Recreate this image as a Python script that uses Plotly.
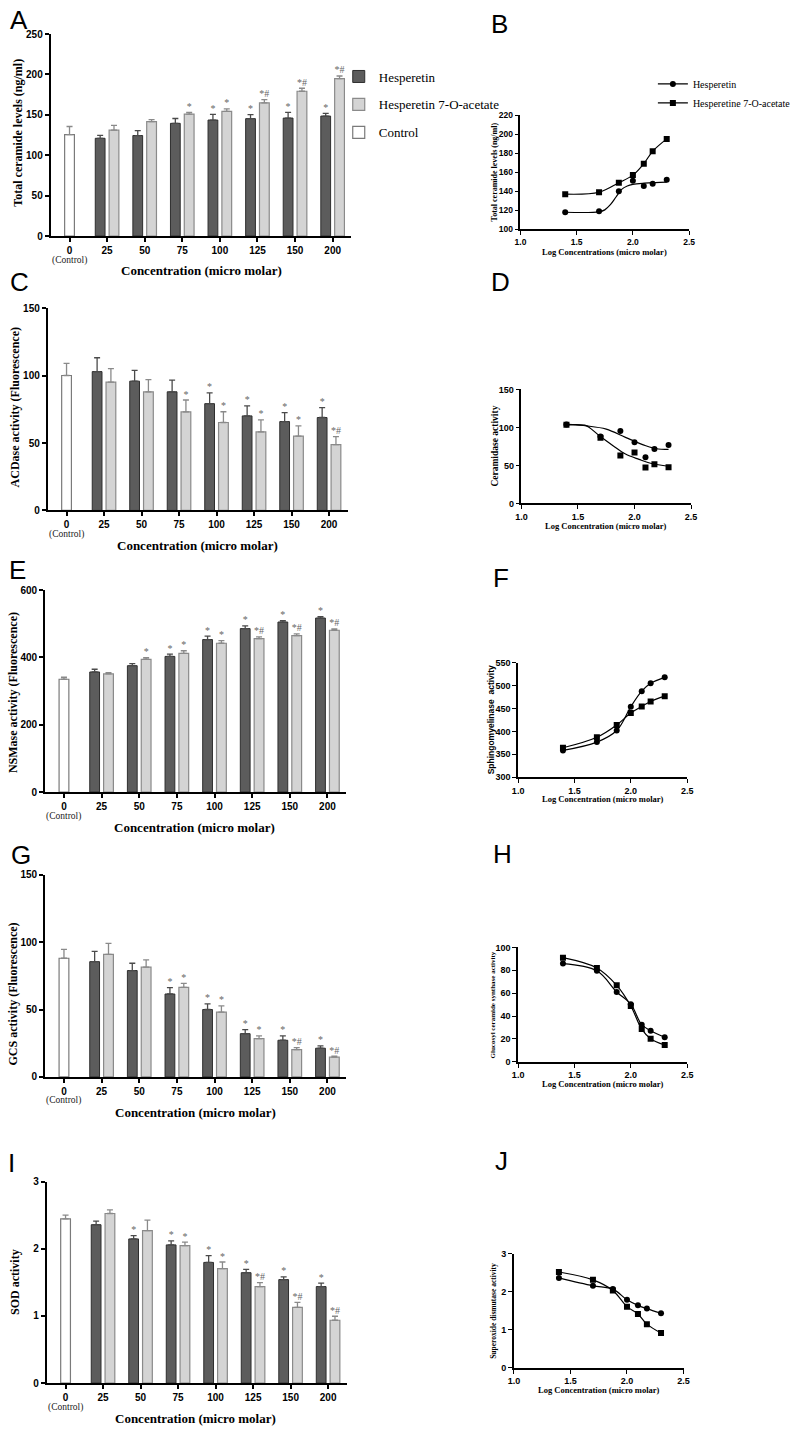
import plotly.graph_objects as go

# ---------------- data ----------------
conc_labels = ['0', '25', '50', '75', '100', '125', '150', '200']
log_conc = [1.398, 1.699, 1.875, 2.0, 2.097, 2.176, 2.301]

# A: total ceramide (ng/ml)
ctrl_A, ctrl_A_err = 125.6, 10.0
hes_A = [121.0, 124.4, 139.5, 143.6, 145.3, 146.0, 148.5]
hes_A_err = [3.7, 6.0, 6.0, 7.0, 5.0, 7.0, 3.3]
ace_A = [131.0, 141.6, 151.0, 154.3, 164.9, 179.2, 194.8]
ace_A_err = [6.0, 2.5, 2.0, 3.0, 4.0, 3.7, 3.3]
hes_A_sig = ['', '', '', '*', '*', '*', '*']
ace_A_sig = ['', '', '*', '*', '*#', '*#', '*#']

# C: ACDase activity
ctrl_C, ctrl_C_err = 100.2, 9.0
hes_C = [103.1, 96.0, 88.1, 79.3, 70.2, 66.0, 69.0]
hes_C_err = [10.3, 8.0, 8.6, 8.0, 7.4, 6.6, 7.4]
ace_C = [95.3, 88.1, 73.2, 65.3, 58.4, 55.2, 48.9]
ace_C_err = [10.0, 9.0, 8.8, 8.0, 8.8, 7.6, 5.9]
hes_C_sig = ['', '', '', '*', '*', '*', '*']
ace_C_sig = ['', '', '*', '*', '*', '*', '*#']

# E: NSMase activity
ctrl_E, ctrl_E_err = 335.0, 6.0
hes_E = [356.7, 375.4, 402.9, 453.0, 485.5, 505.0, 516.9]
hes_E_err = [8.0, 6.0, 7.0, 10.0, 8.0, 4.0, 4.0]
ace_E = [350.8, 394.0, 411.7, 442.0, 456.0, 464.8, 480.6]
ace_E_err = [4.0, 5.0, 8.0, 8.0, 5.0, 5.0, 4.0]
hes_E_sig = ['', '', '*', '*', '*', '*', '*']
ace_E_sig = ['', '*', '*', '*', '*#', '*#', '*#']

# G: GCS activity
ctrl_G, ctrl_G_err = 88.0, 6.6
hes_G = [85.5, 78.9, 61.5, 50.0, 32.1, 27.2, 21.3]
hes_G_err = [7.6, 5.4, 4.7, 4.2, 3.0, 3.2, 1.7]
ace_G = [90.9, 81.4, 66.4, 48.0, 28.4, 20.3, 14.7]
ace_G_err = [8.1, 5.4, 3.0, 4.7, 2.0, 1.5, 0.7]
hes_G_sig = ['', '', '*', '*', '*', '*', '*']
ace_G_sig = ['', '', '*', '*', '*', '*#', '*#']

# I: SOD activity
ctrl_I, ctrl_I_err = 2.448, 0.055
hes_I = [2.36, 2.148, 2.059, 1.798, 1.645, 1.542, 1.438]
hes_I_err = [0.054, 0.05, 0.06, 0.1, 0.05, 0.04, 0.05]
ace_I = [2.527, 2.271, 2.049, 1.704, 1.438, 1.128, 0.936]
ace_I_err = [0.054, 0.158, 0.05, 0.1, 0.06, 0.074, 0.06]
hes_I_sig = ['', '*', '*', '*', '*', '*', '*']
ace_I_sig = ['', '', '*', '*', '*#', '*#', '*#']

# B: log-concentration plot of ceramide levels
hes_B = [118, 119, 140, 151, 145.5, 148, 152]
ace_B = [137, 139, 149, 157, 169, 182, 195]
hes_B_curve_x = [1.398, 1.70, 1.75, 1.80, 1.85, 1.90, 1.95, 2.0, 2.1, 2.2, 2.301]
hes_B_curve_y = [118, 118.5, 120.5, 126, 134, 142, 145.5, 147.2, 148.5, 149.2, 149.6]

# D: ceramidase
hes_D = [104, 88, 95.2, 80.4, 60.9, 71.7, 77]
ace_D = [103.5, 86.5, 63, 67, 47.4, 51.7, 47.8]
hes_D_curve_x = [1.398, 1.58, 1.75, 1.92, 2.10, 2.21, 2.301]
hes_D_curve_y = [104, 102, 97.8, 87, 76, 71.7, 71.3]
ace_D_curve_x = [1.398, 1.56, 1.60, 1.69, 1.81, 1.92, 2.04, 2.15, 2.301]
ace_D_curve_y = [103.5, 103, 100, 89, 76, 65, 58, 52.6, 49]

# F: sphingomyelinase
hes_F = [358.5, 376.6, 401.9, 453.9, 487.9, 505.2, 518.2]
ace_F = [364.3, 387.4, 414.2, 440.2, 454.6, 465.5, 477]

# H: glucosyl ceramide synthase
hes_H = [85.8, 79.5, 61, 50.3, 32.4, 27.2, 21.4]
ace_H = [91, 82, 66.8, 48.8, 28.6, 20.2, 14.7]

# J: superoxide dismutase
hes_J = [2.365, 2.157, 2.07, 1.79, 1.643, 1.557, 1.435]
ace_J = [2.52, 2.313, 2.035, 1.609, 1.417, 1.148, 0.913]

# ---------------- styling ----------------
W, H = 796, 1432
SANS = 'Liberation Sans, Arial, sans-serif'
SERIF = 'Liberation Serif, Times New Roman, serif'
DARK = '#5c5c5c'
DARK_EDGE = '#2e2e2e'
LIGHT = '#d4d4d4'
LIGHT_EDGE = '#8a8a8a'
BW = 0.26
DARK_OFF = -0.315
LIGHT_OFF = 0.053


def fx(px):
    return px / W


def fy(py):
    return 1 - py / H


def refs(n):
    return ('x' if n == 1 else f'x{n}'), ('y' if n == 1 else f'y{n}')


def names(n):
    return ('xaxis' if n == 1 else f'xaxis{n}'), ('yaxis' if n == 1 else f'yaxis{n}')


fig = go.Figure()
layout_axes = {}


def bar_axes(n, x0, x1, ybot, ytop, yrange, dtick):
    xr, yr = refs(n)
    xn, yn = names(n)
    layout_axes[xn] = dict(domain=[fx(x0), fx(x1)], range=[-0.5, 7.5], anchor=yr,
                           tickvals=list(range(8)), ticktext=conc_labels,
                           showline=True, linecolor='black', linewidth=2,
                           ticks='outside', ticklen=4, tickwidth=1.5, tickcolor='black',
                           tickfont=dict(family=SANS, size=10, color='black', weight='bold'),
                           showgrid=False, zeroline=False, fixedrange=True)
    layout_axes[yn] = dict(domain=[fy(ybot), fy(ytop)], range=yrange, anchor=xr,
                           dtick=dtick, tick0=0,
                           showline=True, linecolor='black', linewidth=2,
                           ticks='outside', ticklen=4, tickwidth=1.5, tickcolor='black',
                           tickfont=dict(family=SANS, size=10, color='black', weight='bold'),
                           showgrid=False, zeroline=False, fixedrange=True)


def line_axes(n, x0, x1, ybot, ytop, yrange, dtick, tfs=9):
    xr, yr = refs(n)
    xn, yn = names(n)
    layout_axes[xn] = dict(domain=[fx(x0), fx(x1)], range=[1.0, 2.5], anchor=yr,
                           dtick=0.5, tick0=1.0, tickformat='.1f',
                           showline=True, linecolor='black', linewidth=1.5,
                           ticks='outside', ticklen=4, tickwidth=1.2, tickcolor='black',
                           tickfont=dict(family=SANS, size=tfs, color='black', weight='bold'),
                           showgrid=False, zeroline=False, fixedrange=True)
    layout_axes[yn] = dict(domain=[fy(ybot), fy(ytop)], range=yrange, anchor=xr,
                           dtick=dtick, tick0=yrange[0],
                           showline=True, linecolor='black', linewidth=1.5,
                           ticks='outside', ticklen=4, tickwidth=1.2, tickcolor='black',
                           tickfont=dict(family=SANS, size=tfs, color='black', weight='bold'),
                           showgrid=False, zeroline=False, fixedrange=True)


def bar_panel(n, ctrl, ctrl_err, hes, hes_err, ace, ace_err, hes_sig, ace_sig, legend):
    xr, yr = refs(n)
    cats = list(range(1, 8))
    fig.add_trace(go.Bar(
        x=[0], y=[ctrl], width=BW, offset=-BW / 2, name='Control',
        marker=dict(color='white', line=dict(color='#7a7a7a', width=1.2)),
        error_y=dict(type='data', array=[ctrl_err], arrayminus=[0], symmetric=False,
                     color=LIGHT_EDGE, thickness=1.3, width=3),
        xaxis=xr, yaxis=yr, showlegend=legend, legendgroup='c', legendrank=3))
    fig.add_trace(go.Bar(
        x=cats, y=hes, width=BW, offset=DARK_OFF, name='Hesperetin',
        marker=dict(color=DARK, line=dict(color=DARK_EDGE, width=1)),
        error_y=dict(type='data', array=hes_err, arrayminus=[0] * 7, symmetric=False,
                     color='#4a4a4a', thickness=1.3, width=3),
        xaxis=xr, yaxis=yr, showlegend=legend, legendgroup='h', legendrank=1))
    fig.add_trace(go.Bar(
        x=cats, y=ace, width=BW, offset=LIGHT_OFF, name='Hesperetin 7-O-acetate',
        marker=dict(color=LIGHT, line=dict(color=LIGHT_EDGE, width=1.2)),
        error_y=dict(type='data', array=ace_err, arrayminus=[0] * 7, symmetric=False,
                     color=LIGHT_EDGE, thickness=1.3, width=3),
        xaxis=xr, yaxis=yr, showlegend=legend, legendgroup='a', legendrank=2))
    # significance marks above the error bars
    sx, sy, st = [], [], []
    for c, v, e, s in zip(cats, hes, hes_err, hes_sig):
        if s:
            sx.append(c + DARK_OFF + BW / 2); sy.append(v + e); st.append(s)
    for c, v, e, s in zip(cats, ace, ace_err, ace_sig):
        if s:
            sx.append(c + LIGHT_OFF + BW / 2); sy.append(v + e); st.append(s)
    fig.add_trace(go.Scatter(
        x=sx, y=sy, text=st, mode='text', textposition='top center',
        textfont=dict(family=SERIF, size=10, color='#666666'),
        xaxis=xr, yaxis=yr, showlegend=False, hoverinfo='skip', cliponaxis=False))


def line_panel(n, hes, ace, hes_curve=None, ace_curve=None):
    xr, yr = refs(n)
    mk_c = dict(symbol='circle', size=6, color='black')
    mk_s = dict(symbol='square', size=6, color='black')
    ln = dict(color='black', width=1.2)
    if hes_curve is None:
        fig.add_trace(go.Scatter(x=log_conc, y=hes, mode='lines+markers', marker=mk_c,
                                 line=dict(ln, shape='spline', smoothing=1.0),
                                 xaxis=xr, yaxis=yr, showlegend=False))
    else:
        fig.add_trace(go.Scatter(x=hes_curve[0], y=hes_curve[1], mode='lines',
                                 line=dict(ln, shape='spline', smoothing=1.0),
                                 xaxis=xr, yaxis=yr, showlegend=False))
        fig.add_trace(go.Scatter(x=log_conc, y=hes, mode='markers', marker=mk_c,
                                 xaxis=xr, yaxis=yr, showlegend=False))
    if ace_curve is None:
        fig.add_trace(go.Scatter(x=log_conc, y=ace, mode='lines+markers', marker=mk_s,
                                 line=dict(ln, shape='spline', smoothing=1.0),
                                 xaxis=xr, yaxis=yr, showlegend=False))
    else:
        fig.add_trace(go.Scatter(x=ace_curve[0], y=ace_curve[1], mode='lines',
                                 line=dict(ln, shape='spline', smoothing=1.0),
                                 xaxis=xr, yaxis=yr, showlegend=False))
        fig.add_trace(go.Scatter(x=log_conc, y=ace, mode='markers', marker=mk_s,
                                 xaxis=xr, yaxis=yr, showlegend=False))


# ---------------- panels ----------------
bar_axes(1, 45.7, 353, 232, 28.3, [0, 250], 50)
bar_panel(1, ctrl_A, ctrl_A_err, hes_A, hes_A_err, ace_A, ace_A_err, hes_A_sig, ace_A_sig, True)

line_axes(2, 525.7, 698, 225.3, 110, [100, 220], 20, tfs=8.5)
line_panel(2, hes_B, ace_B, hes_curve=(hes_B_curve_x, hes_B_curve_y))
# legend entries for the line charts
fig.add_trace(go.Scatter(x=[None], y=[None], mode='lines+markers', name='Hesperetin',
                         marker=dict(symbol='circle', size=6, color='black'),
                         line=dict(color='black', width=1.2), xaxis='x2', yaxis='y2',
                         legend='legend2', legendrank=1))
fig.add_trace(go.Scatter(x=[None], y=[None], mode='lines+markers', name='Hesperetine 7-O-acetate',
                         marker=dict(symbol='square', size=6, color='black'),
                         line=dict(color='black', width=1.2), xaxis='x2', yaxis='y2',
                         legend='legend2', legendrank=2))

bar_axes(3, 42.7, 349.3, 508.7, 305, [0, 150], 50)
bar_panel(3, ctrl_C, ctrl_C_err, hes_C, hes_C_err, ace_C, ace_C_err, hes_C_sig, ace_C_sig, False)

line_axes(4, 526.7, 700, 501.7, 386.7, [0, 150], 50)
line_panel(4, hes_D, ace_D, hes_curve=(hes_D_curve_x, hes_D_curve_y),
           ace_curve=(ace_D_curve_x, ace_D_curve_y))

bar_axes(5, 40, 347.7, 792.7, 589, [0, 600], 200)
bar_panel(5, ctrl_E, ctrl_E_err, hes_E, hes_E_err, ace_E, ace_E_err, hes_E_sig, ace_E_sig, False)

line_axes(6, 523.3, 696, 777.7, 662.3, [300, 550], 50)
line_panel(6, hes_F, ace_F)

bar_axes(7, 40, 347.7, 1080, 876, [0, 150], 50)
bar_panel(7, ctrl_G, ctrl_G_err, hes_G, hes_G_err, ace_G, ace_G_err, hes_G_sig, ace_G_sig, False)

line_axes(8, 523.3, 696, 1064.7, 949.3, [0, 100], 20)
line_panel(8, hes_H, ace_H)

bar_axes(9, 41.7, 348.3, 1388.7, 1185.7, [0, 3], 1)
bar_panel(9, ctrl_I, ctrl_I_err, hes_I, hes_I_err, ace_I, ace_I_err, hes_I_sig, ace_I_sig, False)

line_axes(10, 519, 692.3, 1373.3, 1258.3, [0, 3], 1)
line_panel(10, hes_J, ace_J)

# ---------------- text ----------------
ann = []


def text(x, y, s, size, family=SERIF, bold=True, angle=0, color='black'):
    ann.append(dict(x=fx(x), y=fy(y), xref='paper', yref='paper', text=s, showarrow=False,
                    xanchor='center', yanchor='middle', textangle=angle,
                    font=dict(family=family, size=size, color=color,
                              weight='bold' if bold else 'normal')))


# panel letters
for letter, x, y in [('A', 13, 14), ('B', 504, 18), ('C', 14, 278), ('D', 505, 278),
                     ('E', 12, 569), ('F', 506, 577), ('G', 15, 856), ('H', 507, 855),
                     ('I', 6, 1167), ('J', 506, 1165)]:
    text(x, y, letter, 26, family=SANS, bold=False)

# bar panel titles
text(12, 128, 'Total ceramide levels (ng/ml)', 12, angle=-90)
text(200, 267, 'Concentration (micro molar)', 13)
text(9, 405, 'ACDase activity (Fluorescence)', 12, angle=-90)
text(196, 544, 'Concentration (micro molar)', 13)
text(7, 692, 'NSMase activity (Fluorescence)', 12, angle=-90)
text(193, 828, 'Concentration (micro molar)', 13)
text(7, 996, 'GCS activity (Fluorescence)', 12, angle=-90)
text(194, 1116, 'Concentration (micro molar)', 13)
text(9, 1287, 'SOD activity', 12, angle=-90)
text(194, 1424, 'Concentration (micro molar)', 13)

# "(Control)" under the first category
for n, y in [(1, 256.5), (3, 532.5), (5, 817.5), (7, 1103.5), (9, 1413)]:
    xr, _ = refs(n)
    ann.append(dict(x=0, y=fy(y), xref=xr, yref='paper', text='(Control)', showarrow=False,
                    xanchor='center', yanchor='middle',
                    font=dict(family=SERIF, size=9.5, color='#222')))

# line panel titles
text(499.5, 167, 'Total ceramide levels (ng/ml)', 8, angle=-90)
text(612, 248, 'Log Concentrations (micro molar)', 8.5)
text(500, 444, 'Ceramidase activity', 9.5, angle=-90)
text(613, 524, 'Log Concentration (micro molar)', 8.5)
text(496, 720, 'Sphingomyelinase  activity', 8.5, family=SANS, angle=-90)
text(610, 800, 'Log Concentration (micro molar)', 8.5)
text(497.5, 1007, 'Glucosyl ceramide synthase activity', 7, angle=-90)
text(610, 1087, 'Log Concentration (micro molar)', 8.5)
text(498.5, 1316, 'Superoxide dismutase activity', 7.5, angle=-90)
text(606, 1396, 'Log Concentration (micro molar)', 8.5)

fig.update_layout(
    width=W, height=H, margin=dict(l=0, r=0, t=0, b=0),
    paper_bgcolor='white', plot_bgcolor='white',
    barmode='overlay', annotations=ann,
    legend=dict(x=fx(340), y=fy(56), xanchor='left', yanchor='top',
                font=dict(family=SERIF, size=13, color='black'),
                tracegroupgap=8, bgcolor='rgba(0,0,0,0)', itemclick=False),
    legend2=dict(x=fx(661), y=fy(64), xanchor='left', yanchor='top',
                 font=dict(family=SERIF, size=10, color='black'),
                 tracegroupgap=0, bgcolor='rgba(0,0,0,0)', itemclick=False),
    **layout_axes,
)

fig.write_html('out.html', config={'displayModeBar': False},
               post_script="document.body.style.margin='0';document.body.style.padding='0';"
                           "document.body.style.overflow='hidden';")
